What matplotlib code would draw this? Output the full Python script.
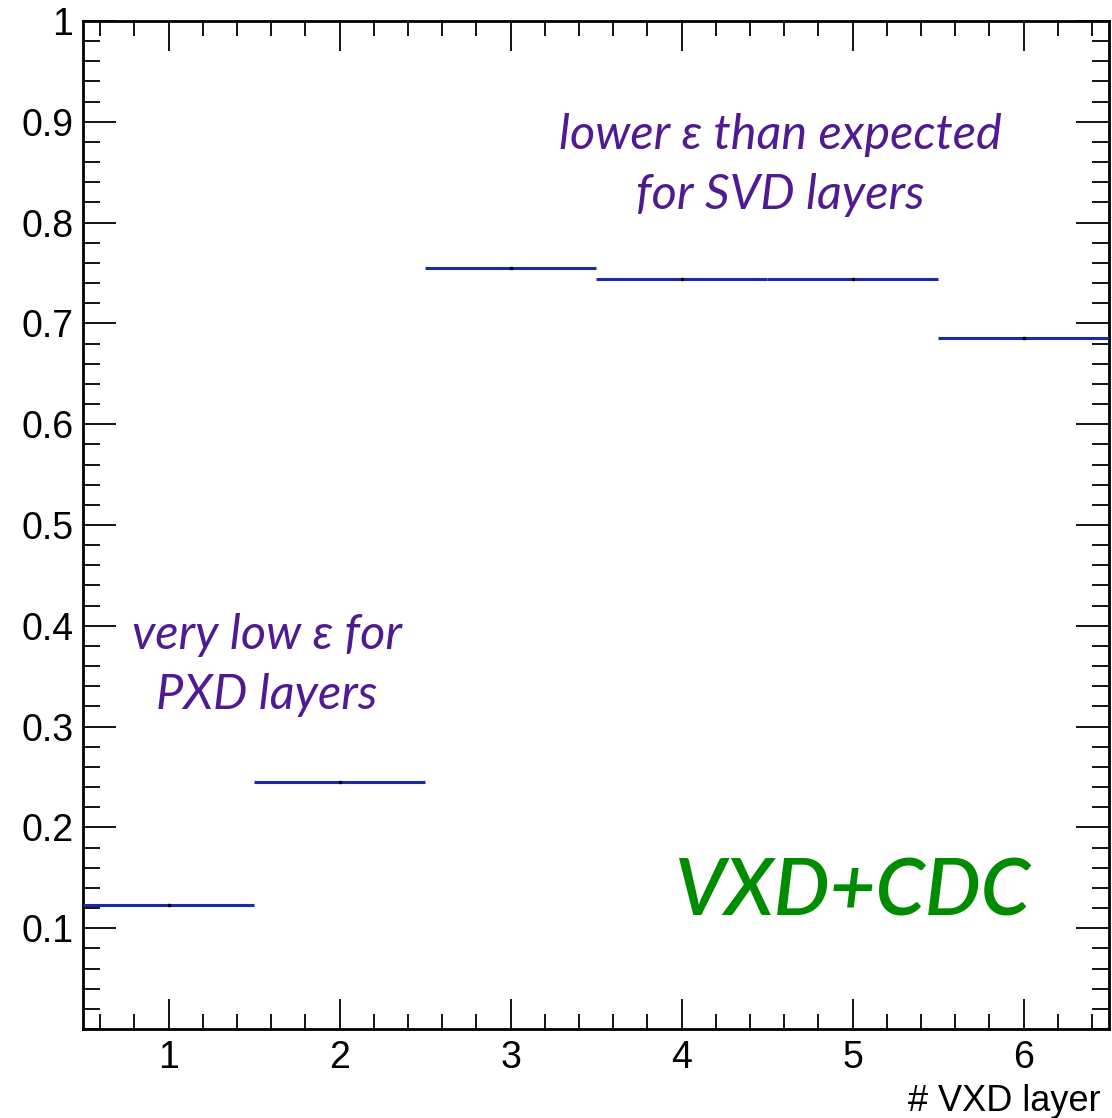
import matplotlib
matplotlib.use("Agg")
import matplotlib.pyplot as plt
import numpy as np
from matplotlib.ticker import MultipleLocator, FixedLocator, FixedFormatter

# efficiency per VXD layer (bin centres 1..6)
layers = [1, 2, 3, 4, 5, 6]
efficiency = [0.123, 0.245, 0.755, 0.744, 0.744, 0.686]
ytick_values = [0.1, 0.2, 0.3, 0.4, 0.5, 0.6, 0.7, 0.8, 0.9, 1.0]
ytick_labels = ["0.1", "0.2", "0.3", "0.4", "0.5", "0.6", "0.7", "0.8", "0.9", "1"]

hist_color = "#1c2aa6"
note_color = "#4f1a92"
tag_color = "#008c00"
note_font = ["Lato", "DejaVu Sans"]

fig = plt.figure(figsize=(11.12, 11.18), dpi=100)
ax = fig.add_axes([83/1112, 1 - 1029/1118, (1109-83)/1112, (1029-21)/1118])

x = np.array(layers, dtype=float)
y = np.array(efficiency)
ax.hlines(y, x - 0.5, x + 0.5, colors=hist_color, lw=2.2, zorder=3)
ax.plot(x, y, ls="none", marker="s", ms=2, color="black", zorder=4)

ax.set_xlim(0.5, 6.5)
ax.set_ylim(0, 1)

ax.xaxis.set_major_locator(MultipleLocator(1))
ax.xaxis.set_minor_locator(MultipleLocator(0.2))
ax.yaxis.set_major_locator(FixedLocator(ytick_values))
ax.yaxis.set_major_formatter(FixedFormatter(ytick_labels))
ax.yaxis.set_minor_locator(MultipleLocator(0.02))

ax.tick_params(which="both", direction="in", top=True, right=True,
               width=1.3, color="black")
ax.tick_params(axis="x", which="major", length=21.5, labelsize=27, pad=8)
ax.tick_params(axis="x", which="minor", length=10.5)
ax.tick_params(axis="y", which="major", length=23.5, labelsize=27, pad=7)
ax.tick_params(axis="y", which="minor", length=12)
ax.tick_params(axis="x", which="both", labeltop=False)
ax.tick_params(axis="y", which="both", labelright=False)
for lab in ax.get_xticklabels() + ax.get_yticklabels():
    lab.set_family(["Liberation Sans", "DejaVu Sans"])
for sp in ax.spines.values():
    sp.set_linewidth(2.0)

ax.set_xlabel("# VXD layer", family=["Liberation Sans", "DejaVu Sans"],
              fontsize=26, ha="right")
ax.xaxis.set_label_coords(0.992, -0.055)

ax.text(0.680, 0.857, "lower \u025b than expected\nfor SVD layers",
        transform=ax.transAxes, ha="center", va="center", style="italic",
        family=note_font, fontsize=35, color=note_color, linespacing=1.45)
ax.text(0.179, 0.361, "very low \u025b for\nPXD layers",
        transform=ax.transAxes, ha="center", va="center", style="italic",
        family=note_font, fontsize=35, color=note_color, linespacing=1.45)
ax.text(0.750, 0.134, "VXD+CDC", transform=ax.transAxes, ha="center",
        va="center", style="italic", weight="semibold", family=note_font,
        fontsize=57, color=tag_color)

fig.savefig("out.png", dpi=100)
